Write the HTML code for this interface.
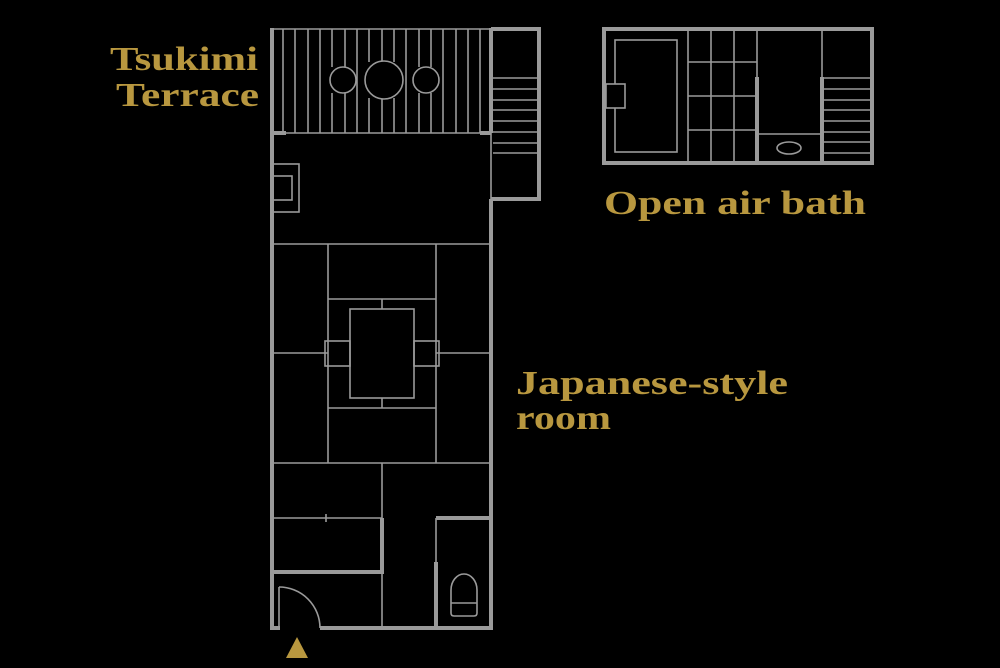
<!DOCTYPE html>
<html><head><meta charset="utf-8"><style>
html,body{margin:0;padding:0;background:#000;}
svg{display:block;}
text{font-family:"Liberation Serif",serif;fill:#b8973f;font-size:34px;font-weight:bold;}
</style></head><body>
<svg width="1000" height="668" viewBox="0 0 1000 668" xmlns="http://www.w3.org/2000/svg">
<g stroke="#9a9a9a" fill="none">
<g stroke-width="1.6">
<line x1="272" y1="29" x2="491" y2="29"/>
<line x1="272" y1="133" x2="491" y2="133"/>
<line x1="283" y1="29" x2="283" y2="133"/><line x1="295" y1="29" x2="295" y2="133"/>
<line x1="308" y1="29" x2="308" y2="133"/><line x1="320" y1="29" x2="320" y2="133"/>
<line x1="332" y1="29" x2="332" y2="67"/><line x1="332" y1="93" x2="332" y2="133"/>
<line x1="345" y1="29" x2="345" y2="67"/><line x1="345" y1="93" x2="345" y2="133"/>
<line x1="357" y1="29" x2="357" y2="133"/>
<line x1="369" y1="29" x2="369" y2="62"/><line x1="369" y1="98" x2="369" y2="133"/>
<line x1="382" y1="29" x2="382" y2="61"/><line x1="382" y1="99" x2="382" y2="133"/>
<line x1="394" y1="29" x2="394" y2="62"/><line x1="394" y1="98" x2="394" y2="133"/>
<line x1="406" y1="29" x2="406" y2="133"/>
<line x1="419" y1="29" x2="419" y2="67"/><line x1="419" y1="93" x2="419" y2="133"/>
<line x1="431" y1="29" x2="431" y2="67"/><line x1="431" y1="93" x2="431" y2="133"/>
<line x1="443" y1="29" x2="443" y2="133"/><line x1="456" y1="29" x2="456" y2="133"/>
<line x1="468" y1="29" x2="468" y2="133"/><line x1="480" y1="29" x2="480" y2="133"/>
</g>
<g fill="#000" stroke-width="1.6">
<circle cx="343" cy="80" r="13"/><circle cx="384" cy="80" r="19"/><circle cx="426" cy="80" r="13"/>
</g>
<g stroke-width="4">
<line x1="272" y1="133" x2="286" y2="133"/><line x1="480" y1="133" x2="491" y2="133"/>
<polyline points="491,29 539,29 539,199 491,199"/>
<line x1="491" y1="28" x2="491" y2="133"/>
<line x1="272" y1="28" x2="272" y2="630"/>
<line x1="491" y1="199" x2="491" y2="630"/>
<line x1="270" y1="628" x2="280" y2="628"/>
<line x1="320" y1="628" x2="493" y2="628"/>
<line x1="272" y1="572" x2="382" y2="572"/>
<line x1="382" y1="518" x2="382" y2="574"/>
<line x1="436" y1="518" x2="491" y2="518"/>
<line x1="436" y1="562" x2="436" y2="628"/>
</g>
<g stroke-width="1.6">
<line x1="491" y1="133" x2="491" y2="199"/>
<line x1="493" y1="78" x2="538" y2="78"/><line x1="493" y1="89" x2="538" y2="89"/>
<line x1="493" y1="100" x2="538" y2="100"/><line x1="493" y1="110" x2="538" y2="110"/>
<line x1="493" y1="121" x2="538" y2="121"/><line x1="493" y1="132" x2="538" y2="132"/>
<line x1="493" y1="143" x2="538" y2="143"/><line x1="493" y1="153" x2="538" y2="153"/>
<rect x="272" y="164" width="27" height="48"/><rect x="272" y="176" width="20" height="24"/>
<line x1="272" y1="244" x2="491" y2="244"/>
<line x1="328" y1="244" x2="328" y2="463"/><line x1="436" y1="244" x2="436" y2="463"/>
<line x1="328" y1="299" x2="436" y2="299"/><line x1="328" y1="408" x2="436" y2="408"/>
<line x1="272" y1="353" x2="328" y2="353"/><line x1="436" y1="353" x2="491" y2="353"/>
<rect x="350" y="309" width="64" height="89"/>
<rect x="325" y="341" width="25" height="25"/><rect x="414" y="341" width="25" height="25"/>
<line x1="382" y1="299" x2="382" y2="309"/><line x1="382" y1="398" x2="382" y2="408"/>
<line x1="272" y1="463" x2="491" y2="463"/>
<line x1="382" y1="463" x2="382" y2="628"/>
<line x1="272" y1="518" x2="382" y2="518"/>
<line x1="326" y1="514" x2="326" y2="522"/>
<line x1="436" y1="518" x2="436" y2="562"/>
<line x1="279" y1="587" x2="279" y2="628"/>
<path d="M279,587 A41,41 0 0 1 320,628"/>
<path d="M451,613 L451,590 A13,16 0 0 1 477,590 L477,613 Q477,616 474,616 L454,616 Q451,616 451,613 Z"/>
<line x1="451" y1="603" x2="477" y2="603"/>
</g>
<g stroke-width="4"><rect x="604" y="29" width="268" height="134"/>
<line x1="757" y1="77" x2="757" y2="163"/><line x1="822" y1="77" x2="822" y2="163"/></g>
<g stroke-width="1.6">
<rect x="615" y="40" width="62" height="112"/>
<rect x="606" y="84" width="19" height="24" fill="#000"/>
<line x1="688" y1="29" x2="688" y2="163"/><line x1="711" y1="29" x2="711" y2="163"/>
<line x1="734" y1="29" x2="734" y2="163"/><line x1="757" y1="29" x2="757" y2="77"/>
<line x1="688" y1="62" x2="757" y2="62"/><line x1="688" y1="96" x2="757" y2="96"/>
<line x1="688" y1="130" x2="757" y2="130"/>
<line x1="822" y1="29" x2="822" y2="77"/>
<line x1="757" y1="134" x2="822" y2="134"/>
<ellipse cx="789" cy="148" rx="12" ry="6"/>
<line x1="824" y1="78" x2="870" y2="78"/><line x1="824" y1="89" x2="870" y2="89"/>
<line x1="824" y1="100" x2="870" y2="100"/><line x1="824" y1="110" x2="870" y2="110"/>
<line x1="824" y1="121" x2="870" y2="121"/><line x1="824" y1="132" x2="870" y2="132"/>
<line x1="824" y1="142" x2="870" y2="142"/><line x1="824" y1="153" x2="870" y2="153"/>
</g>
</g>
<polygon points="297,637 308,658 286,658" fill="#b8973f"/>
<text x="110" y="70" textLength="148" lengthAdjust="spacingAndGlyphs">Tsukimi</text>
<text x="116" y="106" textLength="143" lengthAdjust="spacingAndGlyphs">Terrace</text>
<text x="604" y="214" textLength="262" lengthAdjust="spacingAndGlyphs">Open air bath</text>
<text x="516" y="394" textLength="272" lengthAdjust="spacingAndGlyphs">Japanese-style</text>
<text x="516" y="429" textLength="95" lengthAdjust="spacingAndGlyphs">room</text>
</svg>
</body></html>
